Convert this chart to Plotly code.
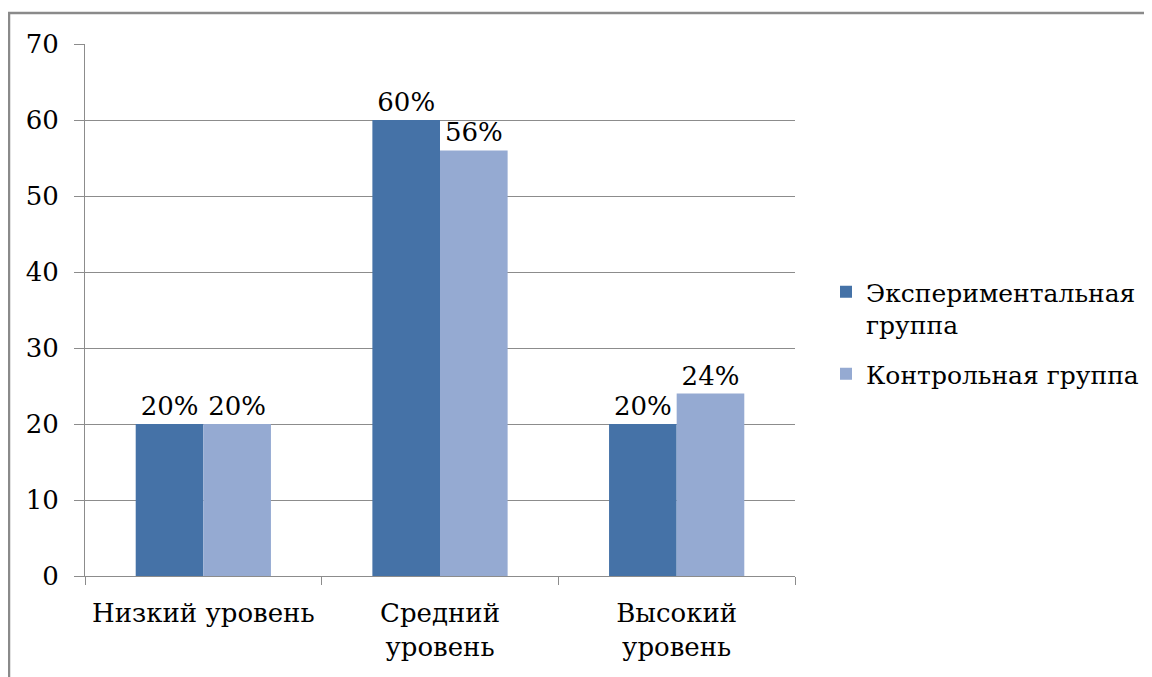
import plotly.graph_objects as go

categories = ['Низкий уровень', 'Средний<br>уровень', 'Высокий<br>уровень']
series_names = ['Экспериментальная<br>группа', 'Контрольная группа']
exp_values = [20, 60, 20]
ctrl_values = [20, 56, 24]
exp_labels = ['20%', '60%', '20%']
ctrl_labels = ['20%', '56%', '24%']

colors = ['#4572A7', '#95AAD2']
grid_color = '#8c8c8c'
font_family = 'DejaVu Serif'
fsize = 26

fig = go.Figure()
for i, (name, vals, labels, col) in enumerate(zip(series_names, [exp_values, ctrl_values],
                                                  [exp_labels, ctrl_labels], colors)):
    fig.add_trace(go.Bar(x=categories,
                         y=vals,
                         name=name,
                         legendgroup=f'g{i}',
                         text=labels,
                         textposition='outside',
                         textfont=dict(size=fsize, color='black', family=font_family),
                         cliponaxis=False,
                         marker=dict(color=col, line_width=0)))

# page has an 8px body margin; plot area is 77..787 px wide, 36..568 px high
pl, pt = 77, 36
pw, ph = 710, 532
fig.add_shape(type='rect', xref='paper', yref='paper',
              x0=(1 - pl) / pw, x1=(1160 - pl) / pw,
              y0=1 - (690 - pt) / ph, y1=1 + (pt - 5) / ph,
              line=dict(color='#8a8a8a', width=2.5), layer='below')

fig.update_layout(width=1152,
                  height=677,
                  margin=dict(l=pl, r=1152 - pl - pw, t=pt, b=677 - pt - ph),
                  plot_bgcolor='white',
                  paper_bgcolor='white',
                  barmode='group',
                  bargap=1.5 / 3.5,
                  bargroupgap=0,
                  font=dict(family=font_family, size=fsize, color='black'),
                  showlegend=True,
                  legend=dict(x=(818 - pl) / pw, y=1 - (261 - pt) / ph,
                              xanchor='left', yanchor='top',
                              valign='top',
                              traceorder='grouped',
                              font=dict(size=25, family=font_family),
                              tracegroupgap=14,
                              borderwidth=0,
                              bgcolor='rgba(0,0,0,0)'),
                  xaxis=dict(showgrid=False,
                             showline=True,
                             linecolor=grid_color,
                             linewidth=1,
                             ticks='outside',
                             tickson='boundaries',
                             ticklen=8,
                             tickcolor=grid_color,
                             ticklabelstandoff=14,
                             tickfont=dict(size=fsize)),
                  yaxis=dict(range=[0, 70],
                             dtick=10,
                             showgrid=True,
                             gridcolor=grid_color,
                             gridwidth=1,
                             showline=True,
                             linecolor=grid_color,
                             linewidth=1,
                             ticks='outside',
                             ticklen=10,
                             tickcolor=grid_color,
                             ticklabelstandoff=10,
                             zeroline=False,
                             tickfont=dict(size=fsize)),
                  hovermode=False)

fig.write_html("out.html")
